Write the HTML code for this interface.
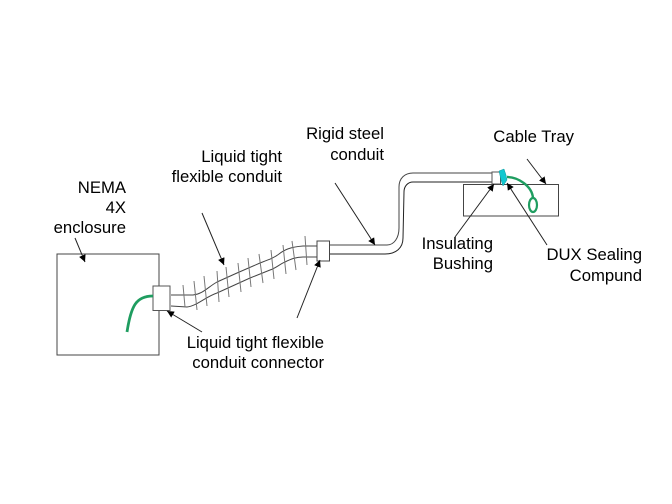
<!DOCTYPE html>
<html><head><meta charset="utf-8"><style>
html,body{margin:0;padding:0;background:#fff}
svg{display:block}
text{font-family:"Liberation Sans",Arial,sans-serif;font-size:16.7px;fill:#000;text-anchor:end}
</style></head><body>
<svg width="672" height="504" viewBox="0 0 672 504" xmlns="http://www.w3.org/2000/svg">
<defs><marker id="a" markerWidth="8" markerHeight="8" refX="7" refY="3.500" orient="auto" markerUnits="userSpaceOnUse"><path d="M0 0L7 3.500L0 7Z" fill="#000"/></marker></defs>
<g fill="none" stroke="#333" stroke-width="1">
<rect x="57" y="254" width="102" height="101" stroke="#444"/>
<rect x="463.500" y="184.500" width="95" height="31.500" stroke="#444"/>
<!-- flexible conduit -->
<path d="M171 295L193 295C203 294 208 287 217 282L237 273L260 263C268 260 274 258 279 254C284 250 290 247 303 246L317 246" stroke="#444"/>
<path d="M171 306L187 307C197 306 205 297 217 293L250 278L270 270C276 268 280 264 285 262C291 259 296 257 303 257L317 257" stroke="#444"/>
<g stroke="#777">
<path d="M183 285L185 307M194 281L197 310M204 276L207 306M217 271L219 302M226 267L229 297M238 263L241 292M248 258L251 287M259 254L263 283M271 250L274 279M283 245L286 274M292 241L296 270M305 236L307 265"/>
</g>
<!-- rigid conduit -->
<path d="M329 245L387 245C394 245 399 238 399 228L399 187C399 178 405 173 413 173L492 173" stroke="#444"/>
<path d="M329 254L385 254C396 254 403 248 403 238L404 192C404 186 408 182 413 182L492 182" stroke="#222"/>
<!-- connectors -->
<rect x="153" y="286" width="17" height="24.500" fill="#fff" stroke="#555"/>
<rect x="317" y="241" width="12.500" height="20" fill="#fff" stroke="#444"/>
<rect x="492" y="172" width="8.500" height="12" fill="#fff" stroke="#555"/>
<!-- wires -->
<path d="M153 296C136 296 131 306 127 332" stroke="#1f9d60" stroke-width="2.800"/>
<path d="M507 177C518 177 532 186 533 198" stroke="#1f9d60" stroke-width="2.400"/>
<ellipse cx="533" cy="205" rx="4" ry="7" stroke="#1f9d60" stroke-width="2.200"/>
</g>
<path d="M499 171L504 169L506 175L507 180L503 186L501 180Z" fill="#10c8d0" stroke="#0a9aa0" stroke-width="0.500"/>
<g fill="none" stroke="#222" stroke-width="1" marker-end="url(#a)">
<path d="M75 238L85 262"/>
<path d="M202 332L167 311"/>
<path d="M202 213L224 265"/>
<path d="M297 318L320 260"/>
<path d="M335 183L375 245"/>
<path d="M527 159L546 184"/>
<path d="M455 237L494 184"/>
<path d="M547 245L507 183"/>
</g>
<text x="126" y="193">NEMA</text>
<text x="126" y="213">4X</text>
<text x="126" y="233">enclosure</text>
<text x="282" y="162">Liquid tight</text>
<text x="282" y="182">flexible conduit</text>
<text x="384" y="139">Rigid steel</text>
<text x="384" y="160">conduit</text>
<text x="574" y="142">Cable Tray</text>
<text x="493" y="249">Insulating</text>
<text x="493" y="269">Bushing</text>
<text x="642" y="260">DUX Sealing</text>
<text x="642" y="281">Compund</text>
<text x="324" y="348">Liquid tight flexible</text>
<text x="324" y="368">conduit connector</text>
</svg>
</body></html>
